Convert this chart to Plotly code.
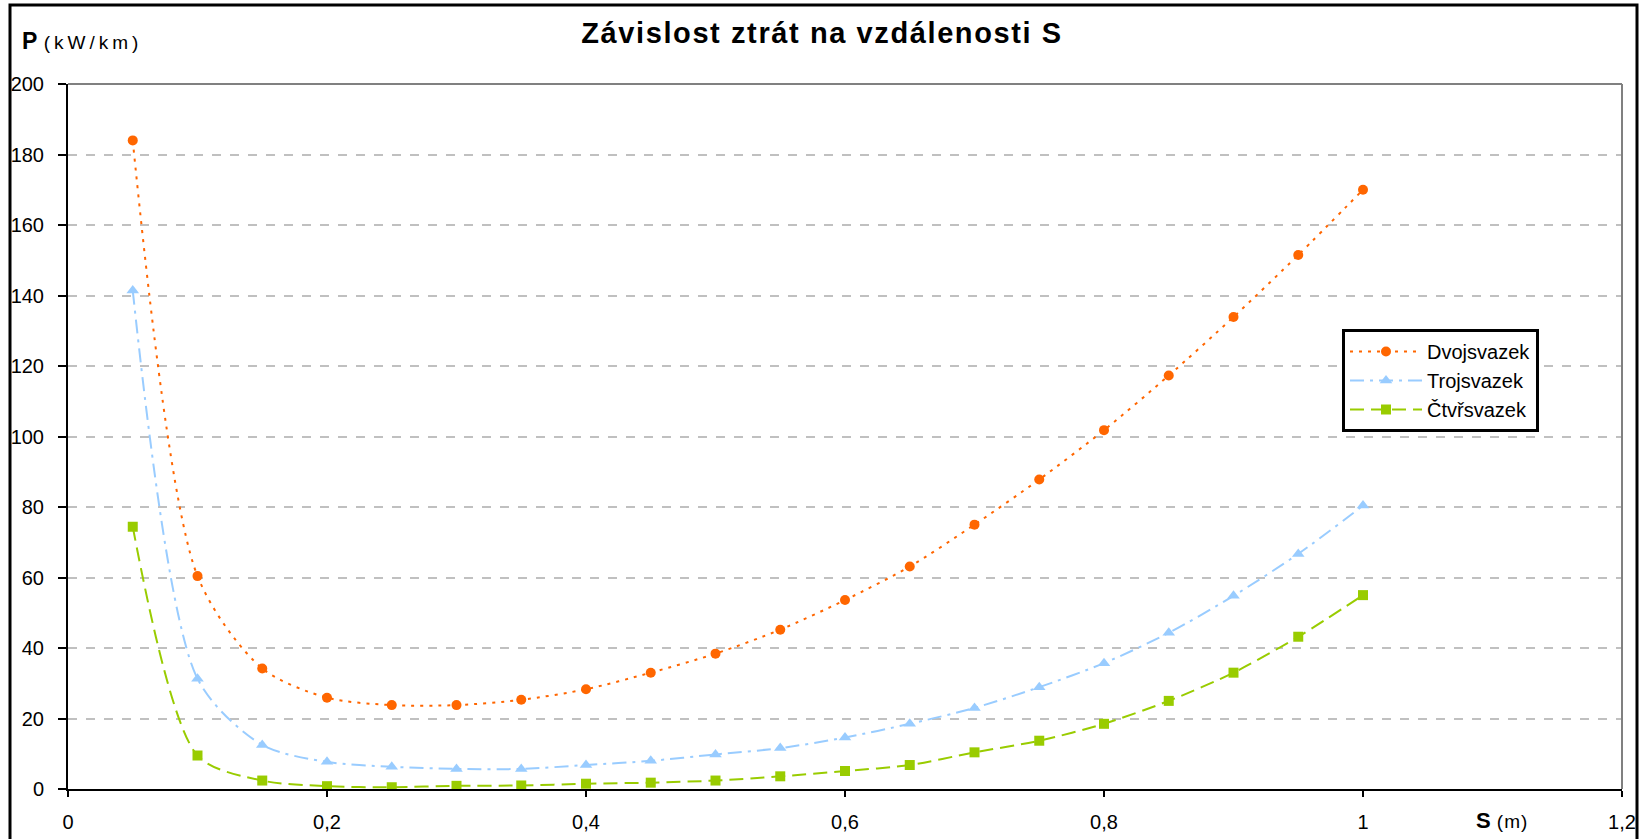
import plotly.graph_objects as go

s_values = [0.05, 0.1, 0.15, 0.2, 0.25, 0.3, 0.35, 0.4, 0.45, 0.5,
            0.55, 0.6, 0.65, 0.7, 0.75, 0.8, 0.85, 0.9, 0.95, 1.0]
dvojsvazek = [184, 60.4, 34.2, 25.9, 23.8, 23.8, 25.3, 28.3, 33.0, 38.4,
              45.2, 53.6, 63.1, 75.0, 87.8, 101.8, 117.3, 133.9, 151.5, 170.0]
trojsvazek = [141.4, 31.3, 12.5, 7.7, 6.3, 5.7, 5.7, 6.8, 8.0, 9.8,
              11.6, 14.6, 18.5, 23.0, 28.9, 35.7, 44.3, 54.8, 66.7, 80.4]
ctvrsvazek = [74.4, 9.5, 2.4, 0.8, 0.5, 0.9, 1.0, 1.5, 1.8, 2.4,
              3.6, 5.1, 6.8, 10.4, 13.7, 18.5, 25.0, 33.0, 43.2, 55.0]

x_tickvals = [0, 0.2, 0.4, 0.6, 0.8, 1.0, 1.2]
x_ticktext = ["0", "0,2", "0,4", "0,6", "0,8", "1", "1,2"]
y_tickvals = [0, 20, 40, 60, 80, 100, 120, 140, 160, 180, 200]

FONT = "Liberation Sans, Arial, sans-serif"
W, H = 1645, 839
L, R, T, B = 68, 23, 84, 50
PW, PH = W - L - R, H - T - B


def px(xp):
    return (xp - L) / PW


def py(yp):
    return (H - B - yp) / PH


fig = go.Figure()
fig.add_trace(go.Scatter(
    x=s_values, y=dvojsvazek, name="Dvojsvazek", mode="lines+markers",
    line=dict(color="#FF6600", width=2, dash="3px,6px", shape="spline", smoothing=0.8),
    marker=dict(symbol="circle", size=10, color="#FF6600")))
fig.add_trace(go.Scatter(
    x=s_values, y=trojsvazek, name="Trojsvazek", mode="lines+markers",
    line=dict(color="#99CCFF", width=2, dash="14px,6px,3px,6px", shape="spline", smoothing=0.8),
    marker=dict(symbol="triangle-up", size=11, color="#99CCFF")))
fig.add_trace(go.Scatter(
    x=s_values, y=ctvrsvazek, name="Čtvřsvazek", mode="lines+markers",
    line=dict(color="#99CC00", width=2, dash="14px,7px", shape="spline", smoothing=0.8),
    marker=dict(symbol="square", size=10, color="#99CC00")))

fig.update_layout(
    width=W, height=H,
    margin=dict(l=L, r=R, t=T, b=B, autoexpand=False),
    paper_bgcolor="white", plot_bgcolor="white",
    font=dict(family=FONT, size=20, color="black"),
    title=dict(text="<b><span style='letter-spacing:1.6px'>Závislost ztrát na vzdálenosti S</span></b>",
               x=822 / W, xanchor="center", xref="container",
               y=1 - 33 / H, yanchor="middle", yref="container",
               font=dict(family=FONT, size=29, color="black")),
    showlegend=True,
    legend=dict(x=px(1342), y=py(329), xanchor="left", yanchor="top",
                bordercolor="black", borderwidth=3, bgcolor="white",
                font=dict(family=FONT, size=20), tracegroupgap=0,
                itemwidth=72),
    xaxis=dict(range=[0, 1.2], tickvals=x_tickvals, ticktext=x_ticktext,
               showgrid=False, zeroline=False, showline=True, linecolor="black",
               linewidth=2, ticks="outside", tickcolor="black", ticklen=6,
               tickwidth=2, tickfont=dict(size=20), ticklabelstandoff=8,
               automargin=False),
    yaxis=dict(range=[0, 200], tickvals=y_tickvals,
               showgrid=True, gridcolor="#C0C0C0", griddash="dash", gridwidth=2,
               zeroline=False, showline=True, linecolor="black", linewidth=2,
               ticks="outside", tickcolor="black", ticklen=8, tickwidth=2,
               tickfont=dict(size=20), ticklabelstandoff=10, automargin=False),
)

# plot border top/right (gray)
fig.add_shape(type="line", xref="paper", yref="paper", x0=0, x1=1, y0=1, y1=1,
              line=dict(color="#808080", width=2))
fig.add_shape(type="line", xref="paper", yref="paper", x0=1, x1=1, y0=0, y1=1,
              line=dict(color="#808080", width=2))
# outer chart border
fig.add_shape(type="rect", xref="paper", yref="paper",
              x0=px(10), x1=px(1637), y0=py(850), y1=py(5),
              line=dict(color="black", width=3), layer="below")

fig.add_annotation(xref="paper", yref="paper", x=px(20), y=py(41),
                   xanchor="left", yanchor="middle", showarrow=False,
                   text="<b>P</b> <span style='font-size:19px;letter-spacing:4px'>(kW/km)</span>",
                   font=dict(family=FONT, size=23, color="black"))
fig.add_annotation(xref="paper", yref="paper", x=px(1474), y=py(820),
                   xanchor="left", yanchor="middle", showarrow=False,
                   text="<b>S</b> <span style='font-size:19px;letter-spacing:1px'>(m)</span>",
                   font=dict(family=FONT, size=22, color="black"))

fig.write_html("out.html", post_script="document.body.style.margin='0';",
               config={"displayModeBar": False})
